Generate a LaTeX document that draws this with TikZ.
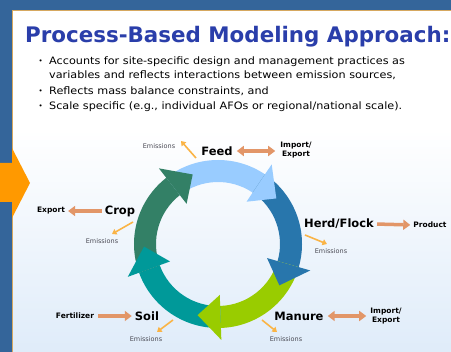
\documentclass[tikz,border=0pt]{standalone}
\usepackage{fontspec}
\setmainfont{DejaVu Sans}
\newfontfamily\bulfont[FakeStretch=1.1]{DejaVu Sans}
\usetikzlibrary{arrows.meta}
\definecolor{frameblue}{RGB}{52,101,154}
\definecolor{paneltan}{RGB}{214,168,96}
\definecolor{panelbot}{RGB}{222,235,249}
\definecolor{titleblue}{RGB}{42,62,170}
\definecolor{bigorange}{RGB}{255,153,0}
\definecolor{cLightBlue}{RGB}{153,204,255}
\definecolor{cDarkBlue}{RGB}{40,118,172}
\definecolor{cGreen}{RGB}{153,204,0}
\definecolor{cTeal}{RGB}{0,153,153}
\definecolor{cDarkGreen}{RGB}{51,128,102}
\definecolor{salmon}{RGB}{226,150,104}
\definecolor{emiss}{RGB}{250,180,70}
\definecolor{emtext}{RGB}{75,75,85}
\newcommand\ringbody[3]{\fill[#1] (#2:62) arc[start angle=#2, end angle=#3, radius=62] -- (#3:84) arc[start angle=#3, end angle=#2, radius=84] -- cycle;}
\newcommand\ringhead[2]{\fill[#1] (#2:51) -- (#2:96) -- ({#2-18}:74) -- cycle;}
\begin{document}
\begin{tikzpicture}[x=1pt,y=-1pt,
  lbl/.style={font=\fontsize{11.5}{13}\selectfont\bfseries, inner sep=1pt},
  sml/.style={font=\fontsize{7.5}{9}\selectfont\bfseries, inner sep=1pt, align=center},
  emt/.style={font=\fontsize{6.5}{8}\selectfont, text=emtext, inner sep=1pt},
  bul/.style={font=\bulfont\fontsize{10.2}{12}\selectfont, anchor=base west, inner sep=0pt},
  dot/.style={font=\fontsize{7}{8}\selectfont, anchor=base west, inner sep=0pt},
  flow/.style={draw=salmon, line width=3.5pt, -{Triangle[length=7pt,width=10pt]}},
  flow2/.style={draw=salmon, line width=3.5pt, {Triangle[length=7pt,width=10pt]}-{Triangle[length=7pt,width=10pt]}},
  emarr/.style={draw=emiss, line width=1.6pt, -{Triangle[length=4.5pt,width=6pt]}}]
\useasboundingbox (0,0) rectangle (451,352);
\fill[frameblue] (0,0) rectangle (451,352);
\fill[white] (12,10) rectangle (460,130);
\shade[top color=white, bottom color=panelbot] (12,129.5) rectangle (460,360);
\draw[paneltan, line width=1.2pt] (12.6,10.6) rectangle (465,365);
% big orange arrow
\fill[bigorange] (0,163) -- (12,163) -- (12,148) -- (30,183) -- (12,218) -- (12,202) -- (0,202) -- cycle;
% title and bullets
\node[anchor=base west, font=\fontsize{21.4}{25}\selectfont\bfseries, text=titleblue, inner sep=0pt] (title) at (25,43) {Process-Based Modeling Approach:};
\node[dot] (b1) at (38.5,64) {•};
\node[bul] (t1) at (49,65) {Accounts for site-specific design and management practices as};
\node[bul] (t2) at (49,79) {variables and reflects interactions between emission sources,};
\node[dot] (b3) at (38.5,94) {•};
\node[bul] (t3) at (49,95) {Reflects mass balance constraints, and};
\node[dot] (b4) at (38.5,109) {•};
\node[bul] (t4) at (49,110) {Scale specific (e.g., individual AFOs or regional/national scale).};
% ring
\begin{scope}[shift={(218,244)}, yscale=-1]
\ringbody{cLightBlue}{128}{56}
\ringbody{cDarkBlue}{56}{-16}
\ringbody{cGreen}{-16}{-88}
\ringbody{cTeal}{-88}{-160}
\ringbody{cDarkGreen}{-160}{-232}
\ringhead{cLightBlue}{56}
\ringhead{cDarkBlue}{-16}
\ringhead{cGreen}{-88}
\ringhead{cTeal}{-160}
\ringhead{cDarkGreen}{128}
\end{scope}
% labels
\node[lbl] (feed) at (217,151) {Feed};
\node[sml] (feedIE) at (296,150) {Import/\\Export};
\node[emt] (feedEm) at (159,146) {Emissions};
\node[lbl] (crop) at (120,211) {Crop};
\node[sml] (cropEx) at (51,211) {Export};
\node[emt] (cropEm) at (102,241) {Emissions};
\node[lbl] (herd) at (339,224) {Herd/Flock};
\node[sml] (prod) at (430,225) {Product};
\node[emt] (herdEm) at (331,251) {Emissions};
\node[lbl] (manure) at (299,316) {Manure};
\node[sml] (manIE) at (386,316) {Import/\\Export};
\node[emt] (manEm) at (286,339) {Emissions};
\node[lbl] (soil) at (147,316) {Soil};
\node[sml] (fert) at (75,316) {Fertilizer};
\node[emt] (soilEm) at (146,339) {Emissions};
% flows
\draw[flow2, shorten <=3pt, shorten >=4pt] (feed.east) -- (feedIE.west |- feed.east);
\draw[flow, shorten <=2pt, shorten >=2pt] (crop.west) -- (cropEx.east);
\draw[flow, shorten <=2pt, shorten >=2pt] (herd.east) -- (prod.west);
\draw[flow2, shorten <=3pt, shorten >=3pt] (manure.east) -- (manIE.west |- manure.east);
\draw[flow, shorten <=3pt, shorten >=2pt] (fert.east) -- (soil.west);
% emission arrows
\coordinate (feedS) at (196,158); \coordinate (feedT) at (181,141);
\coordinate (cropS) at (133,222); \coordinate (cropT) at (112,234);
\coordinate (herdS) at (305,235); \coordinate (herdT) at (327,244);
\coordinate (manS) at (262,320); \coordinate (manT) at (277,332);
\coordinate (soilS) at (173,320); \coordinate (soilT) at (157,332);
\draw[emarr] (feedS) -- (feedT);
\draw[emarr] (cropS) -- (cropT);
\draw[emarr] (herdS) -- (herdT);
\draw[emarr] (manS) -- (manT);
\draw[emarr] (soilS) -- (soilT);
\end{tikzpicture}
\end{document}
